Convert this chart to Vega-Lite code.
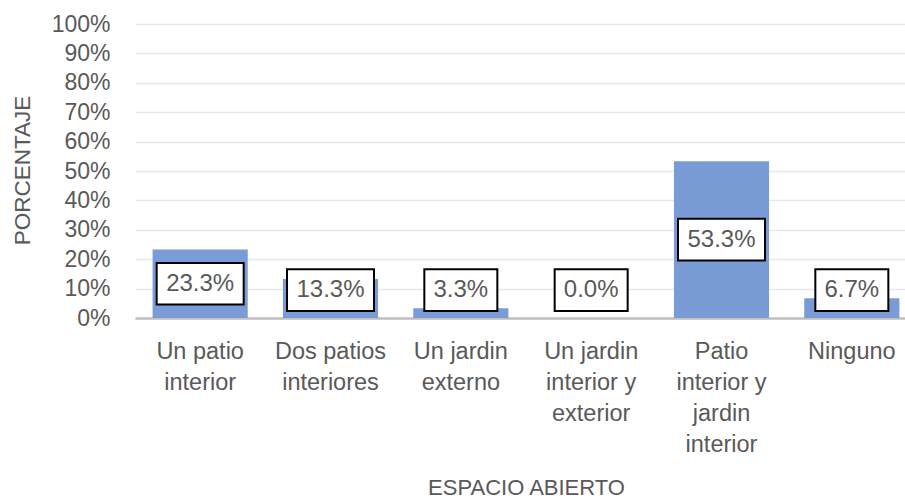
{
  "$schema": "https://vega.github.io/schema/vega-lite/v6.json",
  "autosize": "none",
  "width": 782,
  "height": 294,
  "padding": {"left": 135, "top": 24, "right": 0, "bottom": 181},
  "background": "white",
  "config": {
    "view": {"stroke": null},
    "font": "Liberation Sans"
  },
  "data": {"values": [
    {"espacio": "Un patio\ninterior", "value": 23.3},
    {"espacio": "Dos patios\ninteriores", "value": 13.3},
    {"espacio": "Un jardin\nexterno", "value": 3.3},
    {"espacio": "Un jardin\ninterior y\nexterior", "value": 0.0},
    {"espacio": "Patio\ninterior y\njardin\ninterior", "value": 53.3},
    {"espacio": "Ninguno", "value": 6.7}
  ]},
  "transform": [
    {"calculate": "format(datum.value, '.1f') + '%'", "as": "label"},
    {"calculate": "max(datum.value / 2, 9.5)", "as": "pos"},
    {"calculate": "datum.pos - 7.1", "as": "boxLo"},
    {"calculate": "datum.pos + 7.1", "as": "boxHi"},
    {"calculate": "length(datum.label) * 14 + 17", "as": "boxW"}
  ],
  "resolve": {"axis": {"y": "independent"}},
  "encoding": {
    "x": {
      "field": "espacio", "type": "nominal", "sort": null,
      "scale": {"paddingInner": 0.27, "paddingOuter": 0.135},
      "axis": {
        "title": "ESPACIO ABIERTO",
        "titleFontSize": 22, "titleFontWeight": "normal", "titleColor": "#595959",
        "titleX": 391, "titleY": 181, "titleBaseline": "bottom",
        "labelAngle": 0, "labelFontSize": 23.5, "labelColor": "#595959",
        "labelExpr": "split(datum.label, '\\n')", "labelLineHeight": 31,
        "labelBaseline": "top", "labelPadding": 21, "labelLimit": 200,
        "labelOverlap": false,
        "ticks": false, "domainColor": "#bfbfbf", "domainWidth": 2.5,
        "grid": false
      }
    }
  },
  "layer": [
    {
      "mark": {"type": "bar", "color": "#7a9cd6"},
      "encoding": {
        "y": {
          "field": "value", "type": "quantitative",
          "scale": {"domain": [0, 100], "nice": false},
          "axis": {
            "title": "PORCENTAJE", "titleFontSize": 22.5, "titleFontWeight": "normal",
            "titleColor": "#595959", "titleX": -113, "titleY": 146, "titleAngle": -90,
            "titleBaseline": "middle", "titleAlign": "center",
            "values": [0, 10, 20, 30, 40, 50, 60, 70, 80, 90, 100],
            "labelOverlap": false,
            "labelExpr": "datum.value + '%'",
            "labelFontSize": 23, "labelColor": "#595959", "labelPadding": 25,
            "ticks": false, "domain": false, "gridColor": "#e8e8e8", "gridWidth": 1.5
          }
        }
      }
    },
    {
      "mark": {"type": "bar", "fill": "white", "stroke": "black", "strokeWidth": 2},
      "encoding": {
        "y": {"field": "boxLo", "type": "quantitative", "axis": null},
        "y2": {"field": "boxHi"},
        "size": {"field": "boxW", "type": "quantitative", "scale": null, "legend": null}
      }
    },
    {
      "mark": {"type": "text", "fontSize": 24, "color": "#595959", "baseline": "middle"},
      "encoding": {
        "y": {"field": "pos", "type": "quantitative", "axis": null},
        "text": {"field": "label"}
      }
    }
  ]
}
